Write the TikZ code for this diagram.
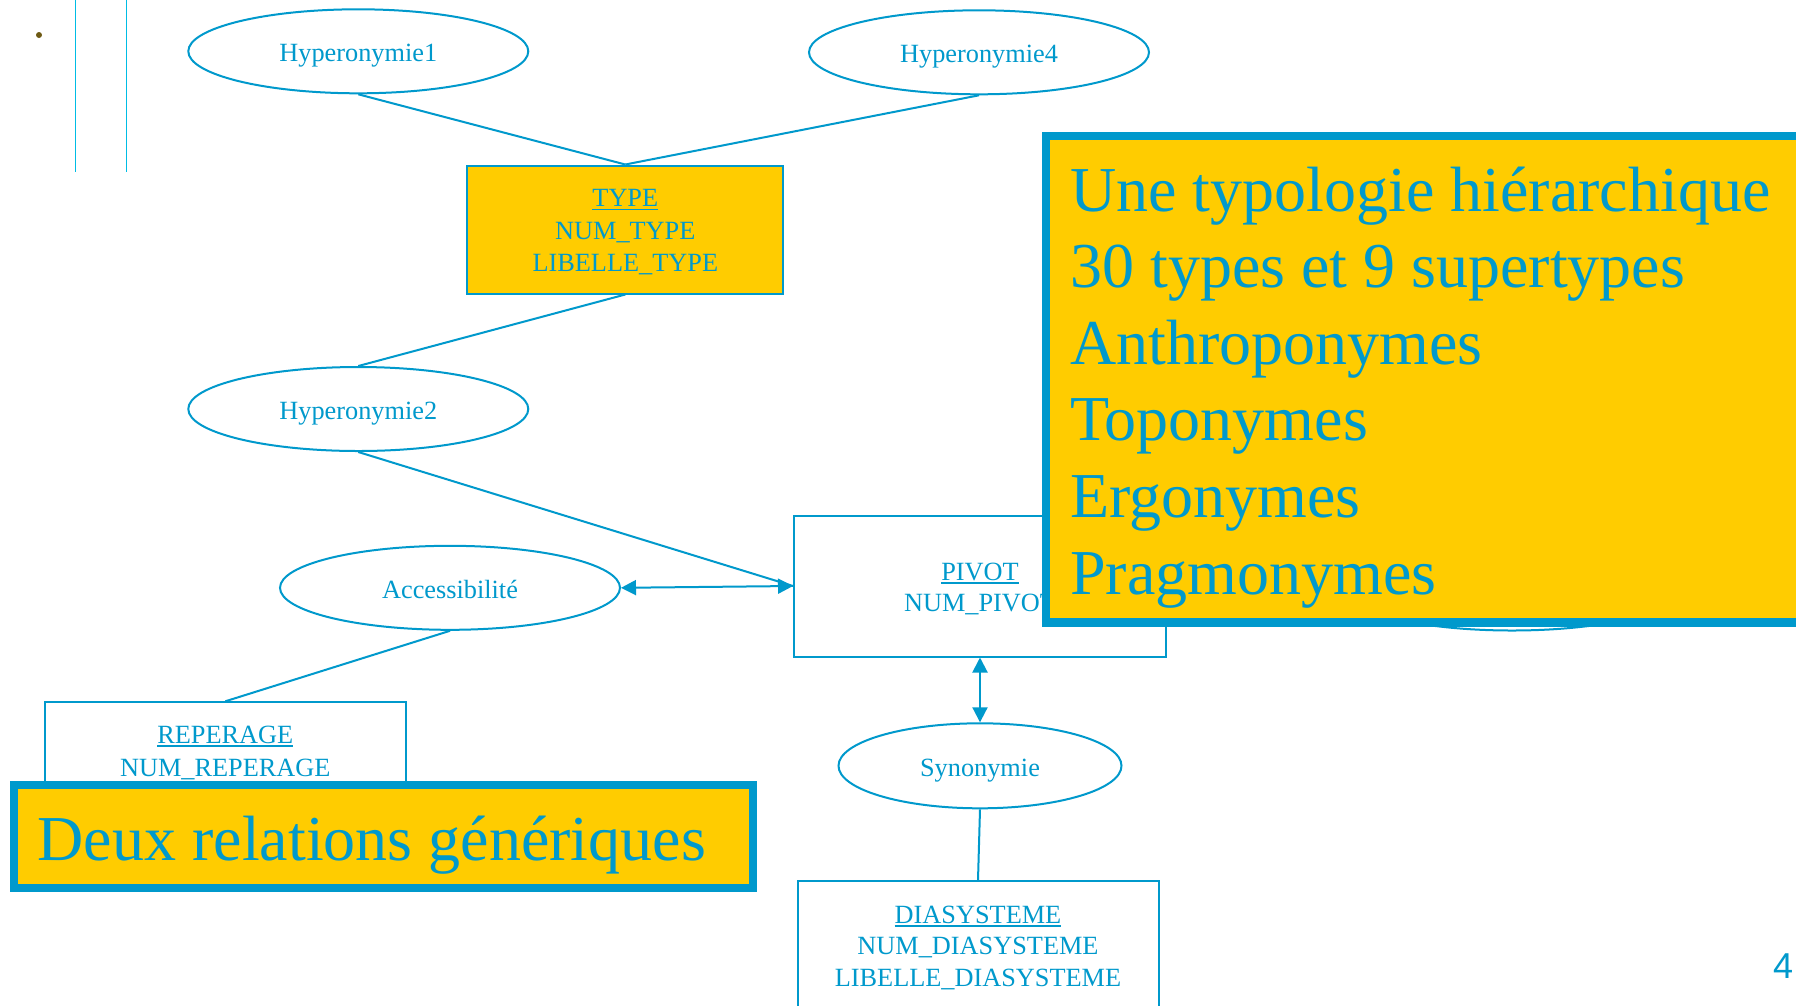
\documentclass[tikz,border=0pt]{standalone}
\usepackage{fontspec}
\setmainfont{Liberation Serif}
\newfontfamily\numfont{Liberation Sans}
\usetikzlibrary{shapes.geometric,arrows.meta}

\definecolor{erblue}{HTML}{0099CC}
\definecolor{noteyellow}{HTML}{FFCC00}
\definecolor{rulecyan}{HTML}{00BCE4}
\definecolor{dotbrown}{HTML}{6E5A14}

% underlined identifier of an entity
\newcommand\keyline[1]{\sbox0{#1}\rlap{\rule[-3.5pt]{\wd0}{1.5pt}}\usebox0}

\tikzset{
  attr/.style={ellipse, draw=erblue, line width=2pt, minimum width=340pt,
    minimum height=84pt, inner sep=0pt, text=erblue,
    text height=26pt, text depth=5.2pt, font=\fontsize{26.3}{32}\selectfont},
  entity/.style={rectangle, draw=erblue, line width=2pt, inner sep=0pt},
  field/.style={anchor=base, inner sep=0pt, text=erblue,
    font=\fontsize{26.3}{32}\selectfont},
  link/.style={draw=erblue, line width=2pt},
  both/.style={link, {Triangle[length=15pt,width=15pt]}-{Triangle[length=15pt,width=15pt]}},
  callout/.style={draw=erblue, line width=8.3pt, fill=noteyellow},
  bigtext/.style={anchor=base west, inner sep=0pt, text=erblue, align=left,
    font=\fontsize{64}{76.6}\selectfont}
}

\begin{document}
\begin{tikzpicture}[x=1pt,y=-1pt]
\useasboundingbox (0,0) rectangle (1796,1005);
\fill[white] (0,0) rectangle (1796,1005);

% slide furniture in the upper left corner
\draw[rulecyan, line width=1.5pt] (75.3,0) -- (75.3,171.7);
\draw[rulecyan, line width=1.5pt] (126.3,0) -- (126.3,171.7);
\fill[dotbrown] (39,35) circle (3pt);

% entities
\node[entity, fill=noteyellow, minimum width=316pt, minimum height=128pt] (type) at (625.3,229.5) {};
\node[field] (typeA) at (625.3,206.7) {\keyline{TYPE}};
\node[field] (typeB) at (625.3,239) {NUM\_TYPE};
\node[field] (typeC) at (625.3,271) {LIBELLE\_TYPE};

\node[entity, minimum width=372pt, minimum height=141pt] (pivot) at (980,586) {};
\node[field] (pivotA) at (980,580) {\keyline{PIVOT}};
\node[field] (pivotB) at (980,611) {NUM\_PIVOT};

\node[entity, minimum width=361pt, minimum height=128pt] (rep) at (225.3,766.3) {};
\node[field] (repA) at (225.3,743.3) {\keyline{REPERAGE}};
\node[field] (repB) at (225.3,776) {NUM\_REPERAGE};

\node[entity, minimum width=361pt, minimum height=128pt] (dia) at (978,945) {};
\node[field] (diaA) at (978,923.3) {\keyline{DIASYSTEME}};
\node[field] (diaB) at (978,954.3) {NUM\_DIASYSTEME};
\node[field] (diaC) at (978,986.7) {LIBELLE\_DIASYSTEME};

% associations
\node[attr] (h1) at (358.3,51.3) {Hyperonymie1};
\node[attr] (h4) at (979,52.3) {Hyperonymie4};
\node[attr] (h2) at (358.3,409) {Hyperonymie2};
\node[attr] (acc) at (450,587.8) {Accessibilité};
\node[attr] (h3) at (1512,588.5) {};
\node[attr, minimum width=283pt, minimum height=85pt] (syn) at (980,765.8) {Synonymie};

% links
\draw[link] (h1.south) -- (type.north);
\draw[link] (h4.south) -- (type.north);
\draw[link] (type.south) -- (h2.north);
\draw[link] (h2.south) -- (pivot.west);
\draw[both] (acc.east) -- (pivot.west);
\draw[link] (acc.south) -- (rep.north);
\draw[both] (pivot.south) -- (syn.north);
\draw[link] (syn.south) -- (dia.north);

% highlighted notes (a multi-line node's base anchor sits on its last line)
\path[callout] (1046.2,135.9) rectangle (1830,622.5);
\node[bigtext] (typology) at (1070,594)
  {Une typologie hiérarchique\\30 types et 9 supertypes\\Anthroponymes\\Toponymes\\Ergonymes\\Pragmonymes};

\path[callout] (14.2,784.9) rectangle (753.2,888.2);
\node[bigtext] (relations) at (37.5,860) {Deux relations génériques};

% page number
\node[anchor=base west, inner sep=0pt, text=erblue, font=\numfont\fontsize{36}{40}\selectfont] (pagenum) at (1773,978) {4};
\end{tikzpicture}
\end{document}
